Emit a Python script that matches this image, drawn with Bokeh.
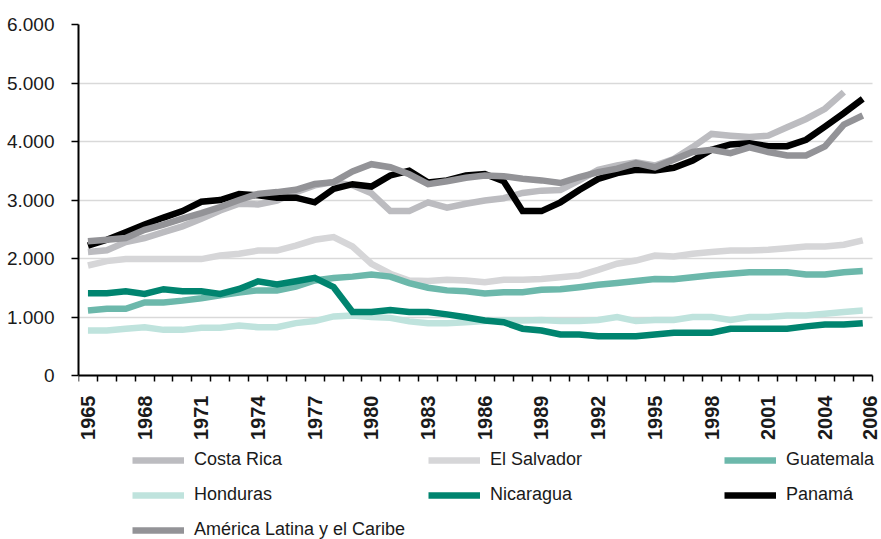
import math
from bokeh.plotting import figure
from bokeh.models import (Range1d, FixedTicker, CustomJSTickFormatter, Legend, LegendItem)
from bokeh.embed import file_html
from bokeh.resources import INLINE

years = list(range(1965, 2007))

costa_rica = [2110, 2140, 2280, 2350, 2450, 2550, 2680, 2820, 2935, 2925,
              2990, 3135, 3250, 3305, 3250, 3115, 2810, 2810, 2960, 2870,
              2935, 2990, 3030, 3120, 3160, 3170, 3335, 3515, 3590, 3645,
              3590, 3700, 3905, 4130, 4100, 4075, 4100, 4245, 4385, 4560,
              4845, float("nan")]
el_salvador = [1880, 1955, 1990, 1990, 1990, 1990, 1990, 2050, 2080, 2135,
               2135, 2220, 2320, 2365, 2205, 1910, 1740, 1625, 1615, 1635,
               1625, 1595, 1635, 1635, 1650, 1680, 1710, 1805, 1910, 1965,
               2050, 2035, 2080, 2110, 2135, 2135, 2150, 2175, 2205, 2205,
               2235, 2310]
guatemala = [1110, 1140, 1140, 1250, 1250, 1280, 1320, 1370, 1420, 1455,
             1455, 1520, 1625, 1665, 1690, 1725, 1690, 1580, 1500, 1455,
             1440, 1400, 1425, 1425, 1465, 1475, 1510, 1550, 1580, 1615,
             1650, 1645, 1680, 1715, 1740, 1765, 1765, 1765, 1725, 1725,
             1765, 1785]
honduras = [770, 770, 800, 825, 780, 780, 815, 815, 855, 825,
            825, 895, 930, 1010, 1025, 1000, 985, 925, 895, 895,
            910, 930, 940, 940, 950, 930, 930, 950, 1000, 930,
            950, 950, 1000, 1000, 950, 1000, 1000, 1025, 1025, 1055,
            1085, 1110]
nicaragua = [1405, 1405, 1440, 1395, 1475, 1440, 1440, 1395, 1480, 1610,
             1555, 1610, 1670, 1510, 1085, 1085, 1120, 1085, 1085, 1045,
             995, 940, 910, 800, 770, 700, 700, 670, 670, 670,
             700, 730, 730, 730, 800, 800, 800, 800, 840, 870,
             870, 895]
panama = [2220, 2320, 2450, 2580, 2700, 2810, 2970, 3000, 3100, 3080,
          3040, 3040, 2960, 3190, 3270, 3230, 3420, 3500, 3300, 3335,
          3420, 3445, 3320, 2810, 2810, 2960, 3170, 3360, 3460, 3515,
          3505, 3550, 3675, 3860, 3950, 3970, 3920, 3920, 4030, 4255,
          4485, 4730]
america_latina = [2296, 2320, 2350, 2490, 2580, 2680, 2775, 2880, 3000, 3105,
                  3135, 3175, 3275, 3305, 3490, 3612, 3561, 3440, 3270, 3320,
                  3380, 3420, 3405, 3365, 3335, 3290, 3390, 3475, 3535, 3630,
                  3560, 3690, 3820, 3860, 3800, 3900, 3820, 3760, 3760, 3915,
                  4290, 4445]

series_names = ["Costa Rica", "El Salvador", "Guatemala", "Honduras",
                "Nicaragua", "Panamá", "América Latina y el Caribe"]
series_values = [costa_rica, el_salvador, guatemala, honduras,
                 nicaragua, panama, america_latina]
series_colors = ["#bcbcc0", "#d6d6d8", "#6cb8ab", "#bfe3dd",
                 "#00846f", "#000000", "#939397"]

label_years = [1965, 1968, 1971, 1974, 1977, 1980, 1983, 1986, 1989,
               1992, 1995, 1998, 2001, 2004, 2006]
y_ticks = [0, 1000, 2000, 3000, 4000, 5000, 6000]
y_tick_labels = ["0", "1.000", "2.000", "3.000", "4.000", "5.000", "6.000"]

FONT = "Liberation Sans"
TXT = "#1a1a1a"

X0, X1 = 1964.5, 2006.5
# frame spans down to the figure bottom and to the right edge; the axes are
# bounded to the data area, leaving room for the legend below the year axis
Y_TOP = 6000
Y_BOTTOM = -Y_TOP * (539 - 375) / (375 - 24)
X_RIGHT = X1 + (X1 - X0) * (881 - 871.7) / (871.7 - 78)

p = figure(width=881, height=539, output_backend="svg", toolbar_location=None,
           x_range=Range1d(X0, X_RIGHT), y_range=Range1d(Y_BOTTOM, Y_TOP),
           min_border_left=78, min_border_right=0, min_border_top=24,
           min_border_bottom=0)
p.outline_line_color = None
p.background_fill_color = "white"
p.border_fill_color = "white"

renderers = []
for name, vals, col in zip(series_names, series_values, series_colors):
    r = p.line(years, vals, line_color=col, line_width=6.5, line_join="miter")
    renderers.append((name, r))

# x axis (last label sits at the end of the axis, as in the original)
xpos = [y if y != 2006 else 2006.4 for y in label_years]
p.xaxis.fixed_location = 0
p.xaxis.bounds = (X0, X1)
p.xaxis.ticker = FixedTicker(ticks=xpos, minor_ticks=[X0 + i for i in range(43)])
p.xaxis.formatter = CustomJSTickFormatter(code="return String(Math.floor(tick));")
p.xaxis.major_label_orientation = math.pi / 2
p.xaxis.major_tick_out = 0
p.xaxis.major_tick_in = 0
p.xaxis.minor_tick_out = 6
p.xaxis.minor_tick_in = 0
p.xaxis.minor_tick_line_color = "black"
p.xaxis.minor_tick_line_width = 1.5
p.xaxis.axis_line_width = 2
p.xaxis.axis_line_color = "black"
p.xaxis.major_label_text_font = FONT
p.xaxis.major_label_text_font_style = "bold"
p.xaxis.major_label_text_font_size = "20px"
p.xaxis.major_label_text_color = TXT
p.xaxis.major_label_standoff = 14

# y axis
p.yaxis.bounds = (0, Y_TOP)
p.yaxis.ticker = FixedTicker(ticks=y_ticks)
p.yaxis.major_label_overrides = {t: l for t, l in zip(y_ticks, y_tick_labels)}
p.yaxis.major_tick_out = 7
p.yaxis.major_tick_in = 0
p.yaxis.major_tick_line_width = 1.5
p.yaxis.minor_tick_out = 0
p.yaxis.minor_tick_in = 0
p.yaxis.axis_line_width = 2
p.yaxis.axis_line_color = "black"
p.yaxis.major_label_text_font = FONT
p.yaxis.major_label_text_font_size = "19px"
p.yaxis.major_label_text_color = TXT
p.yaxis.major_label_standoff = 17

p.xgrid.grid_line_color = None
p.ygrid.grid_line_color = "#d9d9d9"
p.ygrid.grid_line_width = 1.5
p.ygrid.cross_bounds = (X0, X1)

legend = Legend(items=[LegendItem(label=n, renderers=[r]) for n, r in renderers],
                ncols=3, orientation="horizontal",
                location=(54, -1),
                glyph_width=52, glyph_height=20, label_height=20,
                label_width=220, label_standoff=10, spacing=14,
                padding=0, margin=0,
                border_line_color=None, background_fill_alpha=0,
                label_text_font=FONT, label_text_font_size="18px",
                label_text_color=TXT)
p.add_layout(legend, "center")

open("out.html", "w").write(file_html(p, INLINE))
